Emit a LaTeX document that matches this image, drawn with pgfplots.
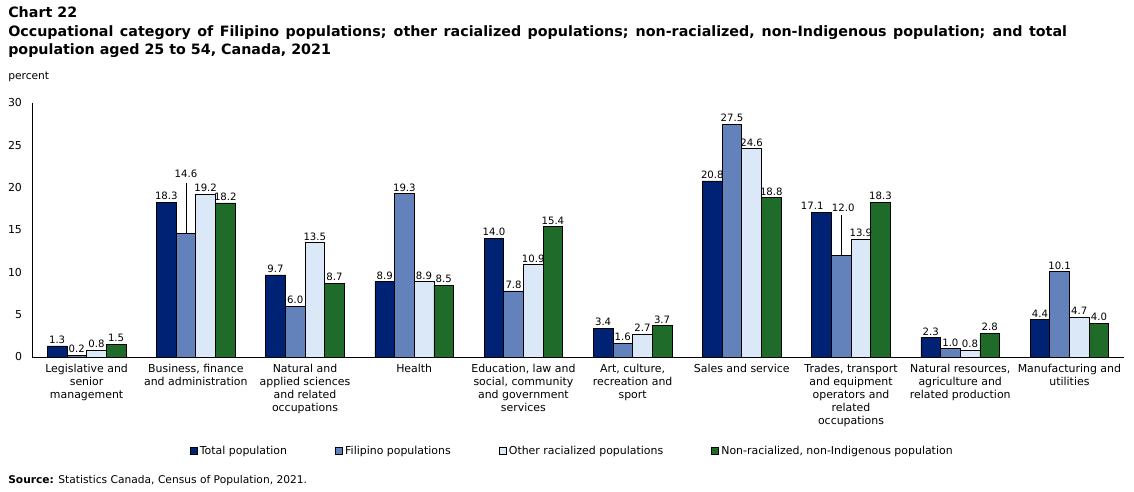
\documentclass[border=0pt]{standalone}
\usepackage{pgfplots}
\pgfplotsset{compat=1.18}
\usepackage{pgfplotstable}
\usepackage{fontspec}
\setmainfont{DejaVu Sans}

\definecolor{cTotal}{HTML}{002274}
\definecolor{cFil}{HTML}{6381BA}
\definecolor{cOther}{HTML}{DAE8F7}
\definecolor{cNon}{HTML}{1F6B2A}

% Occupational shares (percent), aged 25 to 54
\pgfplotstableread{
x total fil other non
0 1.3  0.2  0.8  1.5
1 18.3 14.6 19.2 18.2
2 9.7  6.0  13.5 8.7
3 8.9  19.3 8.9  8.5
4 14.0 7.8  10.9 15.4
5 3.4  1.6  2.7  3.7
6 20.8 27.5 24.6 18.8
7 17.1 12.0 13.9 18.3
8 2.3  1.0  0.8  2.8
9 4.4  10.1 4.7  4.0
}\data

\begin{document}
\begin{tikzpicture}
\path[use as bounding box] (0,0) rectangle (850.5pt,-369pt);

\node[anchor=north west, inner sep=0pt, text width=794pt, align=justify,
      font=\bfseries\fontsize{10.7}{13.9}\selectfont] at (6pt,-5pt)
  {Chart 22\\Occupational category of Filipino populations; other racialized populations; non-racialized, non-Indigenous population; and total population aged 25 to 54, Canada, 2021};

\node[anchor=west, inner sep=0pt, font=\fontsize{8}{10}\selectfont] at (6pt,-57.75pt) {percent};

\begin{axis}[
  at={(24pt,-267.75pt)}, anchor=south west,
  width=819pt, height=190.5pt, scale only axis,
  xmin=-0.5, xmax=9.5, ymin=0, ymax=30,
  ytick={0,5,...,30},
  xtick={0,...,9},
  xticklabels={
    {Legislative and\\senior\\management},
    {Business, finance\\and administration},
    {Natural and\\applied sciences\\and related\\occupations},
    {Health},
    {Education, law and\\social, community\\and government\\services},
    {Art, culture,\\recreation and\\sport},
    {Sales and service},
    {Trades, transport\\and equipment\\operators and\\related\\occupations},
    {Natural resources,\\agriculture and\\related production},
    {Manufacturing and\\utilities}},
  axis x line*=bottom, axis y line*=left,
  axis line style={black, line width=0.6pt, -},
  major tick length=0pt,
  tick label style={font=\fontsize{8.2}{9.75}\selectfont},
  xticklabel style={align=center, anchor=north, yshift=-2pt},
  yticklabel style={xshift=-4pt},
  /pgf/number format/assume math mode=true,
  ybar, bar width=0.18,
  nodes near coords,
  nodes near coords style={font=\fontsize{7.6}{9}\selectfont, inner sep=1.5pt,
    /pgf/number format/fixed, /pgf/number format/zerofill,
    /pgf/number format/precision=1},
  legend columns=4,
  legend style={at={(0.495,-0.37)}, anchor=center, draw=none,
    font=\fontsize{8.2}{10}\selectfont,
    /tikz/every even column/.append style={column sep=34pt}},
  legend image code/.code={\draw[#1, draw=black, line width=0.4pt] (0pt,-2.6pt) rectangle (5.2pt,2.6pt);},
]
\addplot[fill=cTotal, draw=black, line width=0.5pt, bar shift=-0.27,
  coordinate style/.condition={\coordindex==7}{xshift=-7pt}] table[x=x, y=total] {\data};
\addlegendentry{Total population}
\addplot[fill=cFil, draw=black, line width=0.5pt, bar shift=-0.09,
  coordinate style/.condition={\coordindex==1}{yshift=40pt},
  coordinate style/.condition={\coordindex==7}{yshift=31pt, xshift=1.5pt}] table[x=x, y=fil] {\data};
\addlegendentry{Filipino populations}
\addplot[fill=cOther, draw=black, line width=0.5pt, bar shift=0.09] table[x=x, y=other] {\data};
\addlegendentry{Other racialized populations}
\addplot[fill=cNon, draw=black, line width=0.5pt, bar shift=0.27] table[x=x, y=non] {\data};
\addlegendentry{Non-racialized, non-Indigenous population}

% leader lines for the raised labels
\draw[black, line width=0.5pt] (axis cs:0.91,14.6) -- (axis cs:0.91,20.6);
\draw[black, line width=0.5pt] (axis cs:6.91,12.0) -- (axis cs:6.91,16.8);
\end{axis}

\node[anchor=west, inner sep=0pt, font=\fontsize{8}{10}\selectfont] at (6pt,-360.75pt)
  {\textbf{Source:} Statistics Canada, Census of Population, 2021.};
\end{tikzpicture}
\end{document}
